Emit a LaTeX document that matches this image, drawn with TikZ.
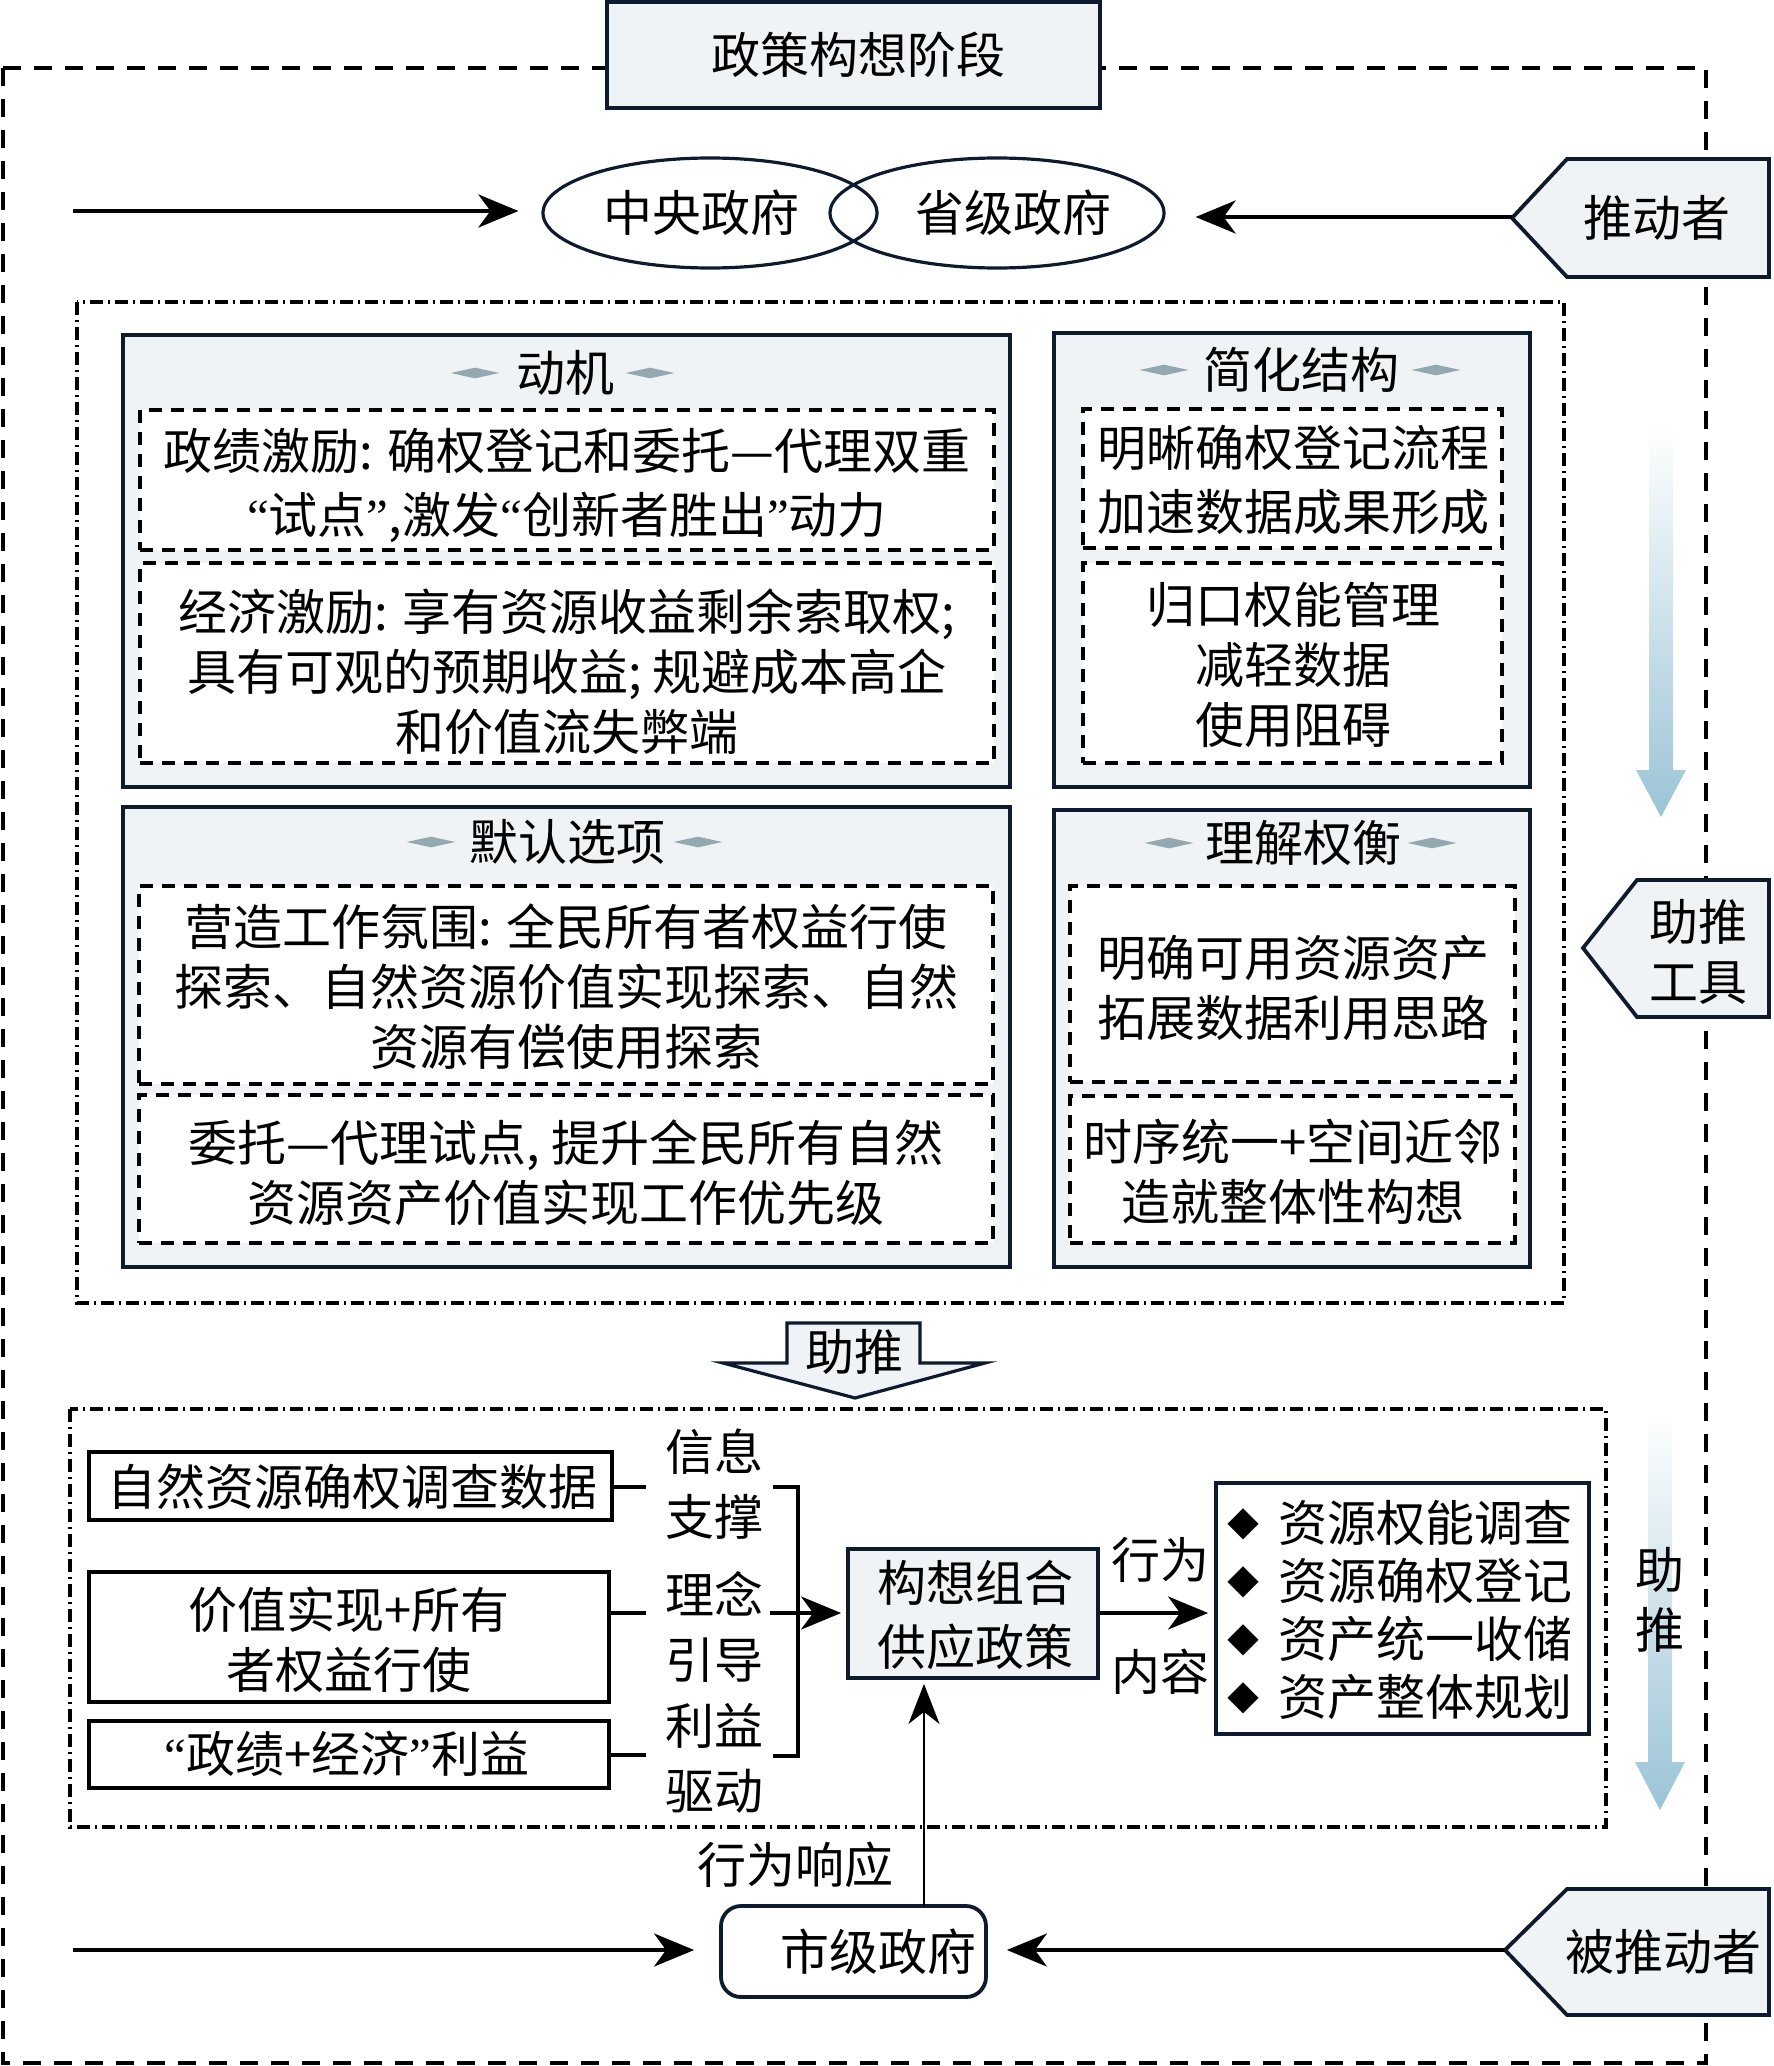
\documentclass[tikz,border=0pt]{standalone}
\usepackage{fontspec}
\setmainfont{Noto Sans CJK SC}
\newfontfamily\latin{Liberation Serif}
\usetikzlibrary{arrows.meta,shapes.geometric,fit}
\definecolor{boxfill}{HTML}{EFF3F5}
\definecolor{navy}{HTML}{0E1A2E}
\definecolor{dia}{HTML}{94A8AF}
\definecolor{arrowblue}{HTML}{9BC4D6}
\newcommand{\bul}{\makebox[29.5pt][l]{\hspace{4pt}\raisebox{2.5pt}{\fontsize{16pt}{16pt}\selectfont ◆}}}
\begin{document}
\begin{tikzpicture}[x=0.5pt,y=-0.5pt,
  txt/.style={font=\fontsize{24.5pt}{30pt}\selectfont, inner sep=0pt, align=center},
  txtw/.style={font=\fontsize{24.5pt}{32pt}\selectfont, inner sep=0pt, align=center},
  txtl/.style={font=\fontsize{24.5pt}{32.5pt}\selectfont, inner sep=0pt, align=center},
  graybox/.style={draw=navy, fill=boxfill, line width=1.9pt, inner sep=0pt},
  dashbox/.style={draw=black, fill=white, line width=1.9pt, dash pattern=on 6.5pt off 4.5pt, inner sep=0pt},
  whitebox/.style={draw=black, fill=white, line width=1.9pt, inner sep=0pt},
  navybox/.style={draw=navy, fill=white, line width=1.9pt, inner sep=0pt},
  outerdash/.style={line width=2pt, dash pattern=on 9pt off 6.5pt},
  dashdot/.style={line width=1.6pt, dash pattern=on 6.5pt off 2.5pt on 1pt off 2.5pt},
  deco/.style={diamond, fill=dia, draw=none, minimum width=24.5pt, minimum height=5.5pt, inner sep=0pt},
  bigarrow/.style={line width=2pt, -{Stealth[length=20pt,width=16.5pt,inset=6pt]}},
  thinarrow/.style={line width=1.2pt, -{Stealth[length=20pt,width=15.5pt,inset=6pt]}},
  conn/.style={line width=1.75pt},
  pent/.style={draw=navy, fill=boxfill, line width=1.9pt},
  grad/.style={top color=white, bottom color=arrowblue, draw=none},
]
\useasboundingbox (0,0) rectangle (1773,2066);

% outer frame and dash-dot frames
\draw[outerdash] (3,68) rectangle (1706,2063);
\draw[dashdot] (77,302) rectangle (1564,1303);
\draw[dashdot] (70,1409) rectangle (1606,1827);

% title
\node[graybox, fit={(607,2) (1100,108)}] (title) {};
\node[txt] (titleT) at (858,55) {政策构想阶段};

% ellipses
\node[ellipse, draw=navy, line width=1.6pt, minimum width=167pt, minimum height=55pt, inner sep=0pt] (e1) at (710,213) {};
\node[ellipse, draw=navy, line width=1.6pt, minimum width=167pt, minimum height=55pt, inner sep=0pt] (e2) at (997,213) {};
\node[txt] (e1T) at (701,213) {中央政府};
\node[txt] (e2T) at (1013,213) {省级政府};

% pusher pentagon
\filldraw[pent] (1512,218) -- (1567,159) -- (1769,159) -- (1769,277) -- (1567,277) -- cycle;
\coordinate (p1tip) at (1512,217);
\node[txt] (p1T) at (1657,218) {推动者};
\coordinate (L1) at (73,211);
\draw[bigarrow, shorten >=11.5pt] (L1) -- (L1 -| e1.west);
\draw[bigarrow, shorten >=15pt] (p1tip) -- (p1tip -| e2.east);

% motive box
\node[graybox, fit={(123,335) (1010,787)}] (mot) {};
\node[deco] (motDa) at (475,373) {};
\node[txt] (motT) at (565,373) {动机};
\node[deco] (motDb) at (650,373) {};
\node[dashbox, fit={(140,410) (994,550)}] (m1) {};
\node[txtw] (m1T) at (567,485) {政绩激励: 确权登记和委托—代理双重\\{\latin “}试点{\latin ”},激发{\latin “}创新者胜出{\latin ”}动力};
\node[dashbox, fit={(140,563) (994,763)}] (m2) {};
\node[txt] (m2T) at (567,672) {经济激励: 享有资源收益剩余索取权;\\具有可观的预期收益; 规避成本高企\\和价值流失弊端};

% simplify box
\node[graybox, fit={(1054,333) (1530,787)}] (sim) {};
\node[deco] (simDa) at (1164,370) {};
\node[txt] (simT) at (1301,370) {简化结构};
\node[deco] (simDb) at (1436,370) {};
\node[dashbox, fit={(1083,409) (1502,548)}] (s1) {};
\node[txtw] (s1T) at (1293,480) {明晰确权登记流程\\加速数据成果形成};
\node[dashbox, fit={(1083,563) (1502,763)}] (s2) {};
\node[txt] (s2T) at (1293,665) {归口权能管理\\减轻数据\\使用阻碍};

% default box
\node[graybox, fit={(123,807) (1010,1267)}] (def) {};
\node[deco] (defDa) at (431,842) {};
\node[txt] (defT) at (567,842) {默认选项};
\node[deco] (defDb) at (698,842) {};
\node[dashbox, fit={(139,886) (993,1084)}] (d1) {};
\node[txt] (d1T) at (566,987) {营造工作氛围: 全民所有者权益行使\\探索、自然资源价值实现探索、自然\\资源有偿使用探索};
\node[dashbox, fit={(139,1095) (993,1243)}] (d2) {};
\node[txt] (d2T) at (566,1173) {委托—代理试点, 提升全民所有自然\\资源资产价值实现工作优先级};

% understand box
\node[graybox, fit={(1054,810) (1530,1267)}] (und) {};
\node[deco] (undDa) at (1169,843) {};
\node[txt] (undT) at (1303,843) {理解权衡};
\node[deco] (undDb) at (1432,843) {};
\node[dashbox, fit={(1070,886) (1515,1082)}] (u1) {};
\node[txt] (u1T) at (1293,988) {明确可用资源资产\\拓展数据利用思路};
\node[dashbox, fit={(1070,1096) (1515,1243)}] (u2) {};
\node[txt] (u2T) at (1293,1172) {时序统一+空间近邻\\造就整体性构想};

% gradient arrows
\shade[grad] (1649,425) -- (1673,425) -- (1673,770) -- (1686,770) -- (1661,817) -- (1636,770) -- (1649,770) -- cycle;
\shade[grad] (1648,1411) -- (1672,1411) -- (1672,1762) -- (1685,1762) -- (1660,1810) -- (1635,1762) -- (1648,1762) -- cycle;
\node[txt] (ga2T) at (1660,1600) {助\\推};

% tool pentagon
\filldraw[pent] (1583,948) -- (1637,880) -- (1769,880) -- (1769,1017) -- (1637,1017) -- cycle;
\node[txt] (p2T) at (1698,952) {助推\\工具};

% block arrow
\filldraw[pent, line width=1.6pt] (787,1323) -- (920,1323) -- (920,1363) -- (985,1363) -- (855,1398) -- (723,1363) -- (787,1363) -- cycle;
\node[txt] (baT) at (854,1352) {助推};

% bottom left boxes
\node[whitebox, fit={(89,1452) (612,1520)}] (bA) {};
\node[txt] (bAT) at (352,1487) {自然资源确权调查数据};
\node[whitebox, fit={(89,1572) (609,1702)}] (bB) {};
\node[txt] (bBT) at (349,1640) {价值实现+所有\\者权益行使};
\node[whitebox, fit={(89,1721) (609,1788)}] (bC) {};
\node[txt] (bCT) at (347,1754) {{\latin “}政绩+经济{\latin ”}利益};

\node[txtl] (lab1) at (714,1484) {信息\\支撑};
\node[txtl] (lab2) at (714,1627) {理念\\引导};
\node[txtl] (lab3) at (714,1758) {利益\\驱动};

\coordinate (sA) at (646,1487);
\coordinate (sB) at (646,1613);
\coordinate (sC) at (646,1755);
\draw[conn] (bA.east |- sA) -- (sA);
\draw[conn] (bB.east |- sB) -- (sB);
\draw[conn] (bC.east |- sC) -- (sC);
\coordinate (bt) at (773,1487);
\coordinate (bb) at (773,1756);
\coordinate (bm) at (770,1613);
\draw[conn] (bt) -- (798,1487) -- (798,1756) -- (bb);

% concept box
\node[graybox, fit={(848,1549) (1098,1678)}] (con) {};
\node[txtw] (conT) at (975,1615) {构想组合\\供应政策};
\draw[bigarrow, shorten >=2.5pt] (bm) -- (bm -| con.west);

% list box
\node[navybox, fit={(1216,1483) (1589,1734)}] (lst) {};
\node[font=\fontsize{24.5pt}{29pt}\selectfont, inner sep=0pt, align=left, anchor=west] (lstT) at (1219,1610) {\bul 资源权能调查\\\bul 资源确权登记\\\bul 资产统一收储\\\bul 资产整体规划};
\draw[bigarrow, shorten >=3pt] (con.east |- bm) -- (lst.west |- bm);
\node[txt] (actT) at (1160,1560) {行为};
\node[txt] (cntT) at (1160,1672) {内容};

% city
\node[navybox, rounded corners=10pt, fit={(721,1906) (986,1997)}] (city) {};
\node[txt] (cityT) at (878,1952) {市级政府};
\node[txt] (respT) at (795,1865) {行为响应};
\coordinate (ua) at (924,1906);
\draw[thinarrow, shorten >=2pt] (ua) -- (ua |- con.south);

% pushed pentagon
\filldraw[pent] (1505,1950) -- (1567,1889) -- (1769,1889) -- (1769,2015) -- (1567,2015) -- cycle;
\coordinate (p3tip) at (1505,1950);
\node[txt] (p3T) at (1663,1952) {被推动者};
\coordinate (L2) at (73,1950);
\draw[bigarrow, shorten >=12.5pt] (L2) -- (L2 -| city.west);
\draw[bigarrow, shorten >=9.5pt] (p3tip) -- (p3tip -| city.east);
\end{tikzpicture}
\end{document}
